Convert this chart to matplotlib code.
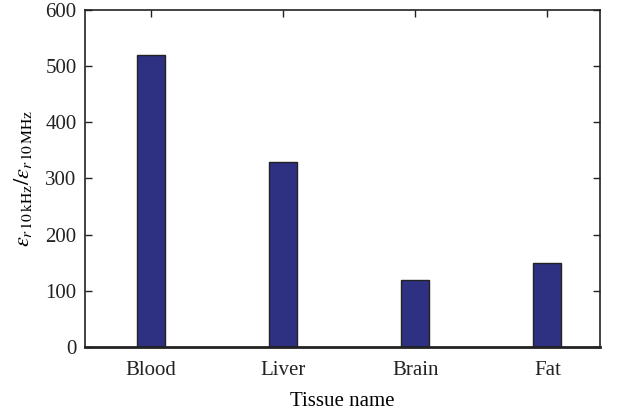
import matplotlib.pyplot as plt

tissues = ["Blood", "Liver", "Brain", "Fat"]
ratio = [520, 330, 120, 150]
yticks = [0, 100, 200, 300, 400, 500, 600]

plt.rcParams['font.family'] = ['Liberation Serif', 'DejaVu Serif']
plt.rcParams['mathtext.fontset'] = 'stix'

fig = plt.figure(figsize=(6.2, 4.15), dpi=100)
ax = fig.add_axes([0.137, 0.164, 0.831, 0.812])

xpos = list(range(1, len(tissues) + 1))
ax.bar(xpos, ratio, width=0.21, color="#2e3082", edgecolor="#222222", linewidth=1.0, zorder=2)

ax.set_xlim(0.5, 4.4)
ax.set_ylim(0, 600)
ax.set_xticks(xpos)
ax.set_xticklabels(tissues)
ax.set_yticks(yticks)
ax.tick_params(direction="in", top=True, right=True, labelsize=15, length=5, width=1, colors="#222222")
ax.tick_params(axis="x", pad=10)
ax.tick_params(axis="y", pad=6)
for s in ax.spines.values():
    s.set_linewidth(1.2)
    s.set_color("#222222")
ax.spines["bottom"].set_linewidth(2)

ax.set_xlabel("Tissue name", fontsize=15, labelpad=9)
ax.set_ylabel(r"$\varepsilon_{r\,10\,\mathrm{kHz}}/\varepsilon_{r\,10\,\mathrm{MHz}}$", fontsize=16, labelpad=8)

fig.savefig("out.png", dpi=100)
